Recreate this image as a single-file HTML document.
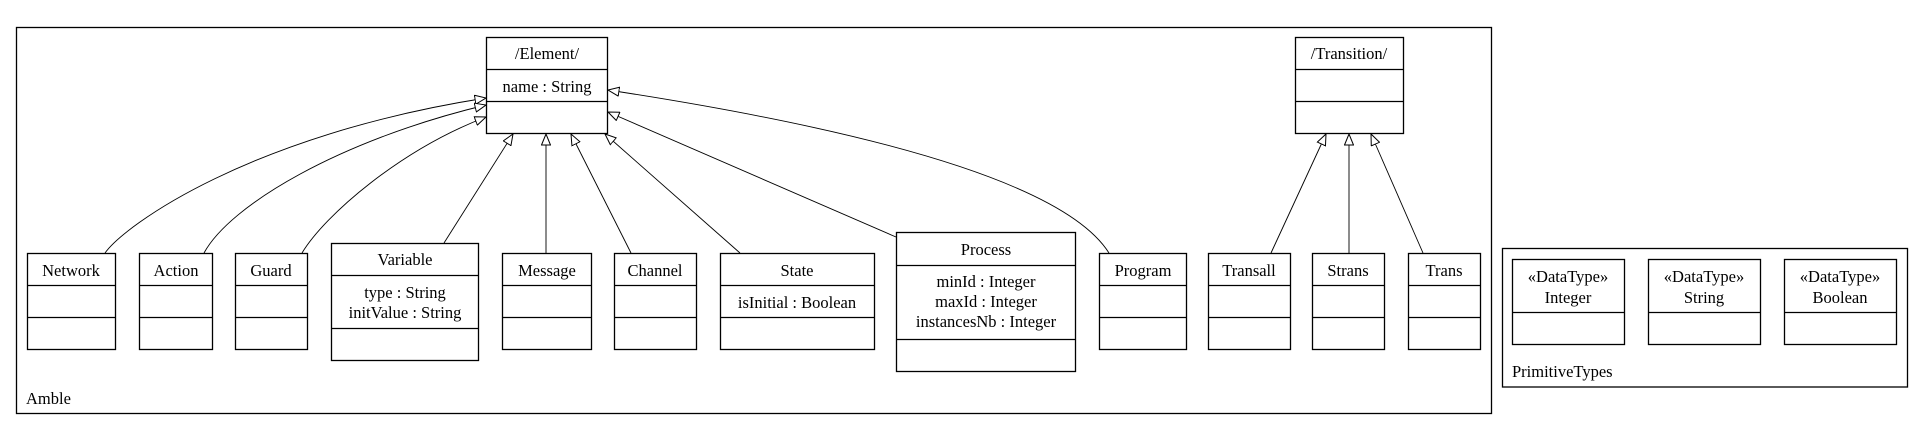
<!DOCTYPE html>
<html><head><meta charset="utf-8"><style>
html,body{margin:0;padding:0;background:#fff;}
svg{display:block;}
text{font-family:"Liberation Serif",serif;font-size:16.5px;fill:#000;}
</style></head><body>
<svg width="1923" height="429" viewBox="0 0 1923 429" xmlns="http://www.w3.org/2000/svg">
<defs>
<marker id="tri" viewBox="0 0 12 10" refX="11.5" refY="5" markerWidth="12" markerHeight="10" markerUnits="userSpaceOnUse" orient="auto">
<path d="M0.5,0.5 L11.5,5 L0.5,9.5 Z" fill="#fff" stroke="#000" stroke-width="1"/>
</marker>
</defs>
<g fill="none" stroke="#000" stroke-width="1.3">
<!-- frames -->
<rect x="16.5" y="27.5" width="1475" height="386"/>
<rect x="1502.5" y="248.5" width="405" height="138.5"/>
<!-- Element -->
<rect x="486.5" y="37.5" width="121" height="96"/>
<line x1="486.5" y1="69.5" x2="607.5" y2="69.5"/><line x1="486.5" y1="101.5" x2="607.5" y2="101.5"/>
<!-- Transition -->
<rect x="1295.5" y="37.5" width="108" height="96"/>
<line x1="1295.5" y1="69.5" x2="1403.5" y2="69.5"/><line x1="1295.5" y1="101.5" x2="1403.5" y2="101.5"/>
<!-- simple boxes -->
<rect x="27.5" y="253.5" width="88" height="96"/><line x1="27.5" y1="285.5" x2="115.5" y2="285.5"/><line x1="27.5" y1="317.5" x2="115.5" y2="317.5"/>
<rect x="139.5" y="253.5" width="73" height="96"/><line x1="139.5" y1="285.5" x2="212.5" y2="285.5"/><line x1="139.5" y1="317.5" x2="212.5" y2="317.5"/>
<rect x="235.5" y="253.5" width="72" height="96"/><line x1="235.5" y1="285.5" x2="307.5" y2="285.5"/><line x1="235.5" y1="317.5" x2="307.5" y2="317.5"/>
<rect x="331.5" y="243.5" width="147" height="117"/><line x1="331.5" y1="275.5" x2="478.5" y2="275.5"/><line x1="331.5" y1="328.5" x2="478.5" y2="328.5"/>
<rect x="502.5" y="253.5" width="89" height="96"/><line x1="502.5" y1="285.5" x2="591.5" y2="285.5"/><line x1="502.5" y1="317.5" x2="591.5" y2="317.5"/>
<rect x="614.5" y="253.5" width="82" height="96"/><line x1="614.5" y1="285.5" x2="696.5" y2="285.5"/><line x1="614.5" y1="317.5" x2="696.5" y2="317.5"/>
<rect x="720.5" y="253.5" width="154" height="96"/><line x1="720.5" y1="285.5" x2="874.5" y2="285.5"/><line x1="720.5" y1="317.5" x2="874.5" y2="317.5"/>
<rect x="896.5" y="232.5" width="179" height="139"/><line x1="896.5" y1="265.5" x2="1075.5" y2="265.5"/><line x1="896.5" y1="339.5" x2="1075.5" y2="339.5"/>
<rect x="1099.5" y="253.5" width="87" height="96"/><line x1="1099.5" y1="285.5" x2="1186.5" y2="285.5"/><line x1="1099.5" y1="317.5" x2="1186.5" y2="317.5"/>
<rect x="1208.5" y="253.5" width="82" height="96"/><line x1="1208.5" y1="285.5" x2="1290.5" y2="285.5"/><line x1="1208.5" y1="317.5" x2="1290.5" y2="317.5"/>
<rect x="1312.5" y="253.5" width="72" height="96"/><line x1="1312.5" y1="285.5" x2="1384.5" y2="285.5"/><line x1="1312.5" y1="317.5" x2="1384.5" y2="317.5"/>
<rect x="1408.5" y="253.5" width="72" height="96"/><line x1="1408.5" y1="285.5" x2="1480.5" y2="285.5"/><line x1="1408.5" y1="317.5" x2="1480.5" y2="317.5"/>
<!-- datatypes -->
<rect x="1512.5" y="259.5" width="112" height="85"/><line x1="1512.5" y1="312.5" x2="1624.5" y2="312.5"/>
<rect x="1648.5" y="259.5" width="112" height="85"/><line x1="1648.5" y1="312.5" x2="1760.5" y2="312.5"/>
<rect x="1784.5" y="259.5" width="112" height="85"/><line x1="1784.5" y1="312.5" x2="1896.5" y2="312.5"/>
</g>
<!-- connectors -->
<g fill="none" stroke="#000" stroke-width="0.9" marker-end="url(#tri)">
<path d="M105,253 C125,225 250,135 486,98"/>
<path d="M204,253 C230,205 340,140 486,105"/>
<path d="M302,253 C325,215 400,150 486,117"/>
<path d="M444,243 L513,134"/>
<path d="M546,253 L546,134"/>
<path d="M631,253 L571,134"/>
<path d="M740,253 L605,134"/>
<path d="M896,237 L608,112"/>
<path d="M1109,253 C1085,215 1000,150 608,90"/>
<path d="M1271,253 L1326,134"/>
<path d="M1349,253 L1349,134"/>
<path d="M1423,253 L1371,134"/>
</g>
<g text-anchor="middle">
<text x="547" y="59">/Element/</text>
<text x="547" y="92">name : String</text>
<text x="1349" y="59">/Transition/</text>
<text x="71" y="276">Network</text>
<text x="176" y="276">Action</text>
<text x="271" y="276">Guard</text>
<text x="405" y="265">Variable</text>
<text x="405" y="298">type : String</text>
<text x="405" y="318">initValue : String</text>
<text x="547" y="276">Message</text>
<text x="655" y="276">Channel</text>
<text x="797" y="276">State</text>
<text x="797" y="308">isInitial : Boolean</text>
<text x="986" y="255">Process</text>
<text x="986" y="287">minId : Integer</text>
<text x="986" y="307">maxId : Integer</text>
<text x="986" y="327">instancesNb : Integer</text>
<text x="1143" y="276">Program</text>
<text x="1249" y="276">Transall</text>
<text x="1348" y="276">Strans</text>
<text x="1444" y="276">Trans</text>
<text x="1568" y="282">«DataType»</text>
<text x="1568" y="303">Integer</text>
<text x="1704" y="282">«DataType»</text>
<text x="1704" y="303">String</text>
<text x="1840" y="282">«DataType»</text>
<text x="1840" y="303">Boolean</text>
</g>
<text x="26" y="404">Amble</text>
<text x="1512" y="377">PrimitiveTypes</text>
</svg>
</body></html>
